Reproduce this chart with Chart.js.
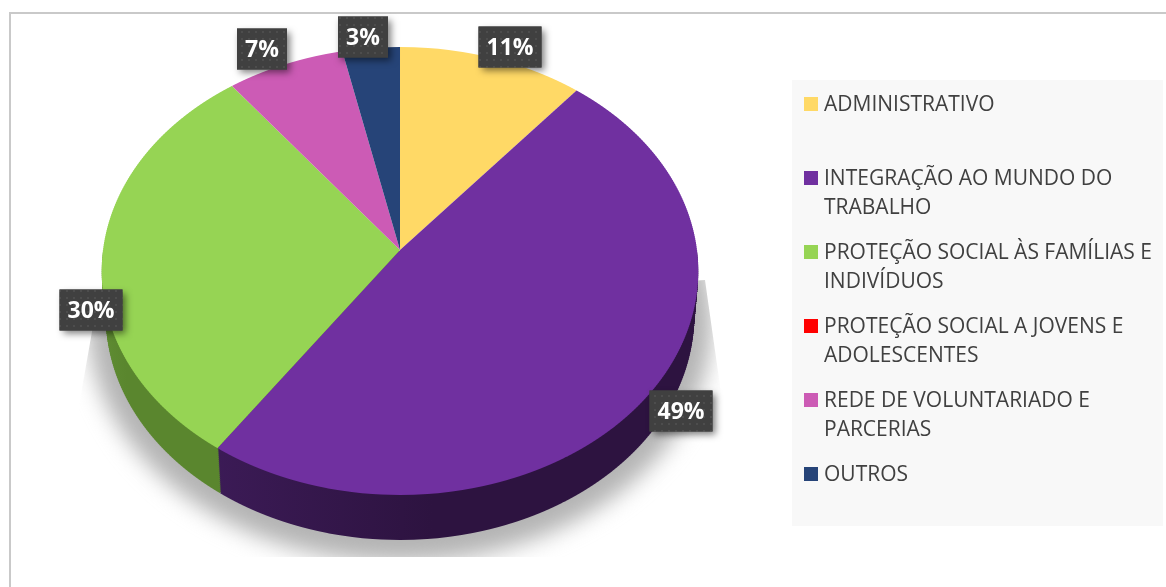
<!DOCTYPE html>
<html lang="pt">
<head>
<meta charset="utf-8">
<style>html,body{margin:0;padding:0;background:#fff;overflow:hidden}#w{position:relative;width:1166px;height:587px}</style>
<script src="https://cdn.jsdelivr.net/npm/chart.js@4"></script>
</head>
<body>
<div id="w"><canvas id="c" width="1166" height="587"></canvas></div>
<script>
const categories = ["ADMINISTRATIVO","INTEGRAÇÃO AO MUNDO DO TRABALHO","PROTEÇÃO SOCIAL ÀS FAMÍLIAS E INDIVÍDUOS","PROTEÇÃO SOCIAL A JOVENS E ADOLESCENTES","REDE DE VOLUNTARIADO E PARCERIAS","OUTROS"];
const shares = [11, 48.6, 30, 0, 7, 3.4];
const sliceColors = ["#FFD966","#7030A0","#96D454","#FF0000","#CC5BB5","#264478"];
const sideColors = ["#a88d44","#2d1340","#5f8c31","#990000","#7a366c","#162844"];
const labelCenters = [[510,47],[681,411],[91,310],null,[262,49],[363,37]];

const FONT = '"Open Sans", sans-serif';
const P = -0.09375;

function project(chart, arcs, cfg, y0, y1, styleFn) {
  const ctx = chart.ctx, R = arcs[0].outerRadius, ax = arcs[0].x, ay = arcs[0].y;
  for (let Y = y0; Y < y1; Y += 2) {
    const yc = Y + 1, t = (yc - cfg.cy) / cfg.b;
    const v = t / (1 - P * t);
    if (Math.abs(v) > 1.01) continue;
    const s = 1 + P * v;
    ctx.save();
    ctx.beginPath(); ctx.rect(0, Y, chart.width, 2); ctx.clip();
    ctx.setTransform(cfg.a / (s * R), 0, 0, cfg.b / (s * s * R), cfg.cx - cfg.a / (s * R) * ax,
      yc - cfg.b / (s * s * R) * (ay + R * v));
    arcs.forEach((arc, i) => {
      if (arc.circumference === 0) return;
      const saved = arc.options;
      arc.options = Object.assign({}, saved, {backgroundColor: styleFn(i), borderWidth: 0});
      arc.draw(ctx);
      arc.options = saved;
    });
    ctx.restore();
  }
}

function wrap(ctx, text, maxW) {
  const out = []; let cur = '';
  text.split(' ').forEach(w => {
    const n = cur ? cur + ' ' + w : w;
    if (ctx.measureText(n).width > maxW && cur) { out.push(cur); cur = w; } else cur = n;
  });
  out.push(cur); return out;
}

const dots = (() => {
  const c = document.createElement('canvas'); c.width = 7; c.height = 7;
  const x = c.getContext('2d');
  x.fillStyle = '#404040'; x.fillRect(0,0,7,7);
  x.fillStyle = '#4d4d4d'; x.fillRect(3,3,2,2);
  return c;
})();

const scene = {
  id: 'scene',
  beforeDatasetDraw(chart) {
    const ctx = chart.ctx, arcs = chart.getDatasetMeta(0).data;
    // frame
    ctx.save();
    ctx.strokeStyle = '#c9c9c9'; ctx.lineWidth = 2;
    ctx.beginPath(); ctx.moveTo(10, 587); ctx.lineTo(10, 13); ctx.lineTo(1166, 13); ctx.stroke();
    // legend panel
    ctx.fillStyle = '#f8f8f8'; ctx.fillRect(792, 80, 371, 446);
    // ground shadow
    ctx.beginPath();
    ctx.moveTo(705,280); ctx.lineTo(722,400); ctx.lineTo(745,557); ctx.lineTo(55,557); ctx.lineTo(80,400); ctx.lineTo(94,320); ctx.closePath();
    ctx.clip();
    ctx.filter = 'blur(11px)';
    ctx.fillStyle = '#b4b4b4';
    ctx.beginPath(); ctx.ellipse(400, 322, 312, 240, 0, 0, Math.PI * 2); ctx.fill();
    ctx.restore();
    // side wall: stacked layers from the bottom rim up to the top face
    const grad = ctx.createLinearGradient(110,0,400,0);
    grad.addColorStop(0,'#74a546'); grad.addColorStop(.38,'#5a862e');
    const gp = ctx.createLinearGradient(220,0,420,0);
    gp.addColorStop(0,'#421e60'); gp.addColorStop(1,'#2d1340');
    const sideStyle = i => i === 2 ? grad : i === 1 ? gp : sideColors[i];
    for (let d = 45; d > 0; d -= 2) {
      project(chart, arcs, {cx:400, cy:250 + d, a:297 - d * 0.09, b:222}, 250 + d, 546, sideStyle);
    }
    // top face
    project(chart, arcs, {cx:400, cy:250, a:297, b:222}, 44, 500, i => sliceColors[i]);
    return false;
  },
  afterDatasetsDraw(chart) {
    const ctx = chart.ctx;
    // value labels
    const pat = ctx.createPattern(dots, 'repeat');
    shares.forEach((val, i) => {
      if (!val || !labelCenters[i]) return;
      const txt = Math.round(val) + '%';
      const [x, y] = labelCenters[i];
      const w = txt.length > 2 ? 63 : 50, h = 41;
      ctx.save();
      ctx.shadowColor = 'rgba(0,0,0,.5)'; ctx.shadowBlur = 7; ctx.shadowOffsetX = 3; ctx.shadowOffsetY = 3;
      ctx.fillStyle = '#404040';
      ctx.fillRect(x - w/2, y - h/2, w, h);
      ctx.shadowColor = 'transparent';
      ctx.fillStyle = pat; ctx.fillRect(x - w/2, y - h/2, w, h);
      ctx.font = '700 23px ' + FONT; ctx.fillStyle = '#fff';
      ctx.textAlign = 'center'; ctx.textBaseline = 'middle';
      ctx.fillText(txt, x, y + 1);
      ctx.restore();
    });
    // legend
    ctx.save();
    ctx.font = '21px ' + FONT; ctx.textBaseline = 'middle'; ctx.textAlign = 'left';
    categories.forEach((name, i) => {
      const y = 103 + 74 * i;
      ctx.fillStyle = sliceColors[i];
      ctx.fillRect(804, y - 6, 14, 14);
      ctx.fillStyle = '#404040';
      wrap(ctx, name, 335).forEach((ln, k) => ctx.fillText(ln, 824, y + 29 * k + 2));
    });
    ctx.restore();
  }
};

new Chart(document.getElementById('c'), {
  type: 'pie',
  data: { labels: categories, datasets: [{ data: shares, backgroundColor: sliceColors, borderWidth: 0 }] },
  options: {
    responsive: false, animation: false,
    layout: { padding: { left: 197, right: 563, top: 47, bottom: 134 } },
    plugins: { legend: { display: false }, tooltip: { enabled: false } }
  },
  plugins: [scene]
});
</script>
</body>
</html>
